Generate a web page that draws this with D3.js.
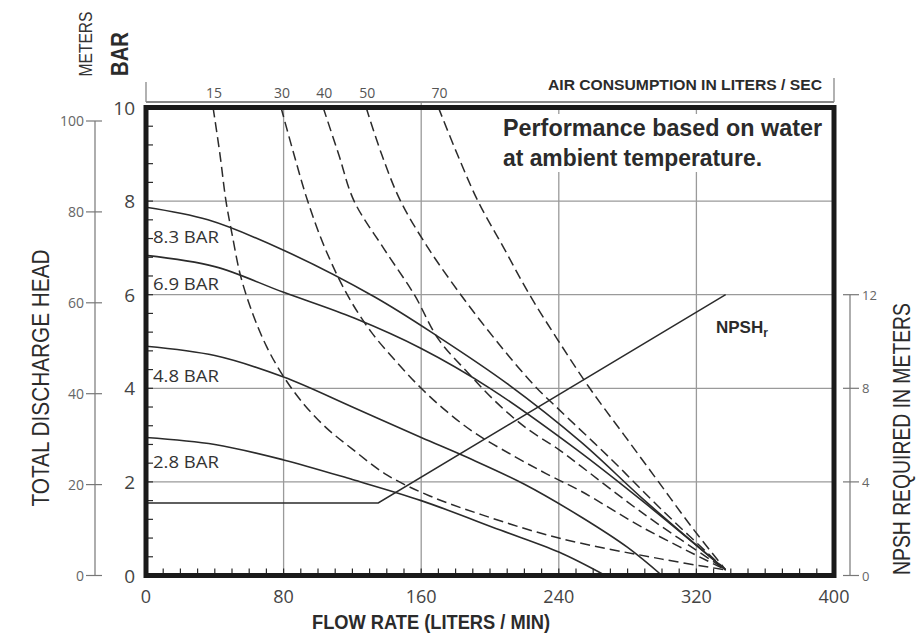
<!DOCTYPE html>
<html><head><meta charset="utf-8">
<script src="https://cdn.jsdelivr.net/npm/d3@7"></script>
<style>body{margin:0;background:#fff}svg{display:block}</style>
</head><body><svg id="c" width="924" height="637"></svg>
<script>
// ---- data ----
const flowTicks = [0, 80, 160, 240, 320, 400];
const barTicks = [0, 2, 4, 6, 8, 10];
const meterTicks = [0, 20, 40, 60, 80, 100];
const npshTicks = [0, 4, 8, 12];
const airLabels = ["15", "30", "40", "50", "70"];
const pressureLabels = ["8.3 BAR", "6.9 BAR", "4.8 BAR", "2.8 BAR"];
// pressure curves: [flow L/min, head bar]
const p83 = [[0,7.87],[36,7.6],[80,6.95],[133,5.95],[170,5.1],[210,4.1],[253,2.85],[290,1.6],[337,0.12]];
const p69 = [[0,6.84],[40,6.6],[80,6.05],[121,5.5],[160,4.85],[200,4.0],[250,2.7],[290,1.55],[337,0.12]];
const p48 = [[0,4.9],[40,4.7],[80,4.24],[120,3.6],[160,2.95],[187,2.52],[220,1.95],[253,1.25],[280,0.6],[300,0]];
const p28 = [[0,2.95],[40,2.8],[80,2.47],[120,2.05],[160,1.6],[206,0.97],[240,0.5],[267,0]];
// air consumption curves (dashed)
const a15 = [[39,10],[43,9],[46.5,8],[50,7.3],[55,6.4],[62,5.6],[70,4.9],[80,4.25],[92,3.65],[105,3.15],[120,2.7],[140,2.15],[165,1.7],[195,1.3],[240,0.8],[300,0.35],[337,0.12]];
const a30 = [[78.5,10],[86,9],[94,8],[104,7],[117,6],[131,5.2],[146,4.55],[160,4.0],[175,3.5],[191,3.05],[214,2.55],[234,2.15],[253,1.8],[290,1.0],[337,0.12]];
const a40 = [[103,10],[112,9],[121,8],[138,7],[156,6],[170,5.05],[187,4.34],[202,3.76],[220,3.18],[240,2.69],[253,2.33],[290,1.3],[337,0.12]];
const a50 = [[128,10],[137,9],[148,8],[164,7],[183,6],[204,5],[226,4.05],[240,3.55],[270,2.5],[300,1.4],[337,0.12]];
const a70 = [[170,10],[181,9],[193,8],[208,7],[223,6],[240,5.0],[258,4],[278,3],[298,2],[318,1],[337,0.12]];
// NPSH required: [flow, meters]
const npsh = [[0,3.1],[135,3.1],[337,12]];

const pressureCurves = [p83, p69, p48, p28];
const airCurves = [a15, a30, a40, a50, a70];

// ---- scales ----
const svg = d3.select("#c");
const x = d3.scaleLinear().domain([0, 400]).range([146, 834]);
const y = d3.scaleLinear().domain([0, 10]).range([575.5, 107.5]);
const yM = d3.scaleLinear().domain([0, 100]).range([575.5, 121]);
const yN = d3.scaleLinear().domain([0, 12]).range([575.5, y(6)]);

const NARROW = "'Liberation Sans Narrow','Arial Narrow','Liberation Sans',sans-serif";
const HUM = "'Open Sans','Noto Sans',sans-serif";
const ink = "#2b2b2b";
const grid = "#9a9a9a";

// grid
const g = svg.append("g");
g.selectAll(".vg").data(flowTicks.filter(d => d > 0 && d < 400)).join("line")
  .attr("x1", d => x(d)).attr("x2", d => x(d)).attr("y1", y(0)).attr("y2", y(10))
  .attr("stroke", grid).attr("stroke-width", 1.3);
g.selectAll(".hg").data(barTicks.filter(d => d > 0 && d < 10)).join("line")
  .attr("x1", x(0)).attr("x2", x(400)).attr("y1", d => y(d)).attr("y2", d => y(d))
  .attr("stroke", grid).attr("stroke-width", 1.3);
g.append("line").attr("x1", x(160)).attr("x2", x(160)).attr("y1", 102).attr("y2", y(10))
  .attr("stroke", grid).attr("stroke-width", 1.3);

// white box behind annotation
svg.append("rect").attr("x", 500).attr("y", 114).attr("width", 326).attr("height", 58).attr("fill", "#fff");

// curves
const line = d3.line().x(d => x(d[0])).y(d => y(d[1])).curve(d3.curveCatmullRom.alpha(0.5));
svg.append("g").selectAll("path").data(airCurves).join("path")
  .attr("d", line).attr("fill", "none").attr("stroke", ink).attr("stroke-width", 1.5)
  .attr("stroke-dasharray", "10,5");
svg.append("g").selectAll("path").data(pressureCurves).join("path")
  .attr("d", line).attr("fill", "none").attr("stroke", ink).attr("stroke-width", 1.6);
const nline = d3.line().x(d => x(d[0])).y(d => yN(d[1]));
svg.append("path").datum(npsh).attr("d", nline).attr("fill", "none").attr("stroke", ink).attr("stroke-width", 1.5);

// frame minor ticks
const fr = svg.append("g");
fr.selectAll(".bt").data(d3.range(10, 400, 10)).join("line")
  .attr("x1", d => x(d)).attr("x2", d => x(d)).attr("y1", y(0)).attr("y2", y(0) - 7)
  .attr("stroke", ink).attr("stroke-width", 1.2);
fr.selectAll(".lt").data(d3.range(0.4, 10, 0.4)).join("line")
  .attr("x1", x(0)).attr("x2", x(0) + 7).attr("y1", d => y(d)).attr("y2", d => y(d))
  .attr("stroke", ink).attr("stroke-width", 1.2);
fr.append("rect").attr("x", x(0)).attr("y", y(10)).attr("width", x(400) - x(0)).attr("height", y(0) - y(10))
  .attr("fill", "none").attr("stroke", "#1a1a1a").attr("stroke-width", 5);

// bottom axis labels
svg.append("g").selectAll("text").data(flowTicks).join("text")
  .attr("x", d => x(d)).attr("y", 603).attr("text-anchor", "middle")
  .attr("font-family", HUM).attr("font-size", 18).attr("fill", "#444").text(d => d);
// bar axis labels
svg.append("g").selectAll("text").data(barTicks).join("text")
  .attr("x", 135).attr("y", d => y(d) + 7).attr("text-anchor", "end")
  .attr("font-family", HUM).attr("font-size", 19).attr("fill", "#444").text(d => d);

// meters axis (left)
const ma = svg.append("g");
ma.append("line").attr("x1", 95).attr("x2", 95).attr("y1", yM(0)).attr("y2", yM(100)).attr("stroke", "#777").attr("stroke-width", 1.2);
ma.selectAll(".t").data(meterTicks).join("line")
  .attr("x1", 86).attr("x2", 102).attr("y1", d => yM(d)).attr("y2", d => yM(d)).attr("stroke", "#777").attr("stroke-width", 1.2);
ma.selectAll("text").data(meterTicks).join("text")
  .attr("x", 84).attr("y", d => yM(d) + 5).attr("text-anchor", "end")
  .attr("font-family", HUM).attr("font-size", 14).attr("fill", "#666").text(d => d);

// NPSH axis (right)
const na = svg.append("g");
na.append("line").attr("x1", 850).attr("x2", 850).attr("y1", yN(0)).attr("y2", yN(12)).attr("stroke", "#777").attr("stroke-width", 1.2);
na.selectAll(".t").data(npshTicks).join("line")
  .attr("x1", 843).attr("x2", 859).attr("y1", d => yN(d)).attr("y2", d => yN(d)).attr("stroke", "#777").attr("stroke-width", 1.2);
na.selectAll("text").data(npshTicks).join("text")
  .attr("x", 862).attr("y", d => yN(d) + 5)
  .attr("font-family", HUM).attr("font-size", 13).attr("fill", "#666").text(d => d);

// air consumption axis (top)
const ta = svg.append("g");
ta.append("line").attr("x1", x(0)).attr("x2", x(400)).attr("y1", 102).attr("y2", 102).attr("stroke", "#888").attr("stroke-width", 2);
ta.append("line").attr("x1", x(0)).attr("x2", x(0)).attr("y1", 82).attr("y2", 102).attr("stroke", "#888").attr("stroke-width", 1.3);
ta.append("line").attr("x1", x(400)).attr("x2", x(400)).attr("y1", 78).attr("y2", 102).attr("stroke", "#888").attr("stroke-width", 1.3);
ta.selectAll("text").data(airCurves).join("text")
  .attr("x", d => x(d[0][0]) + 1).attr("y", 98).attr("text-anchor", "middle")
  .attr("font-family", HUM).attr("font-size", 14).attr("fill", "#555").text((d, i) => airLabels[i]);
ta.append("text").attr("x", 822).attr("y", 90).attr("text-anchor", "end")
  .attr("font-family", NARROW).attr("font-weight", "bold").attr("font-size", 14).attr("fill", ink)
  .attr("textLength", 274).attr("lengthAdjust", "spacingAndGlyphs")
  .text("AIR CONSUMPTION IN LITERS / SEC");

// pressure labels
const pBase = [243, 290, 382, 468];
svg.append("g").selectAll("text").data(pressureLabels).join("text")
  .attr("x", 153).attr("y", (d, i) => pBase[i])
  .attr("font-family", HUM).attr("font-size", 17).attr("fill", "#333")
  .attr("textLength", 66).attr("lengthAdjust", "spacingAndGlyphs").text(d => d);

// annotation
const ann = svg.append("g").attr("font-family", NARROW).attr("font-weight", "bold").attr("font-size", 24).attr("fill", ink);
ann.append("text").attr("x", 503).attr("y", 136).attr("textLength", 319).attr("lengthAdjust", "spacingAndGlyphs").text("Performance based on water");
ann.append("text").attr("x", 503).attr("y", 166).attr("textLength", 259).attr("lengthAdjust", "spacingAndGlyphs").text("at ambient temperature.");

// NPSHr label
const nl = svg.append("text").attr("x", 716).attr("y", 333).attr("font-family", NARROW).attr("font-weight", "bold").attr("font-size", 17).attr("fill", ink);
nl.append("tspan").text("NPSH");
nl.append("tspan").attr("dy", 4).attr("font-size", 12).text("r");

// axis titles
svg.append("text").attr("transform", "translate(49,378) rotate(-90)").attr("text-anchor", "middle")
  .attr("font-family", NARROW).attr("font-size", 23).attr("fill", ink)
  .attr("textLength", 257).attr("lengthAdjust", "spacingAndGlyphs").text("TOTAL DISCHARGE HEAD");
svg.append("text").attr("transform", "translate(910,439) rotate(-90)").attr("text-anchor", "middle")
  .attr("font-family", NARROW).attr("font-size", 23).attr("fill", ink)
  .attr("textLength", 272).attr("lengthAdjust", "spacingAndGlyphs").text("NPSH REQUIRED IN METERS");
svg.append("text").attr("x", 431).attr("y", 629).attr("text-anchor", "middle")
  .attr("font-family", NARROW).attr("font-weight", "bold").attr("font-size", 20).attr("fill", ink)
  .attr("textLength", 238).attr("lengthAdjust", "spacingAndGlyphs").text("FLOW RATE (LITERS / MIN)");
svg.append("text").attr("transform", "translate(92,44) rotate(-90)").attr("text-anchor", "middle")
  .attr("font-family", NARROW).attr("font-size", 18).attr("fill", "#333")
  .attr("textLength", 65).attr("lengthAdjust", "spacingAndGlyphs").text("METERS");
svg.append("text").attr("transform", "translate(128,54) rotate(-90)").attr("text-anchor", "middle")
  .attr("font-family", NARROW).attr("font-weight", "bold").attr("font-size", 23).attr("fill", ink)
  .attr("textLength", 44).attr("lengthAdjust", "spacingAndGlyphs").text("BAR");
</script></body></html>
